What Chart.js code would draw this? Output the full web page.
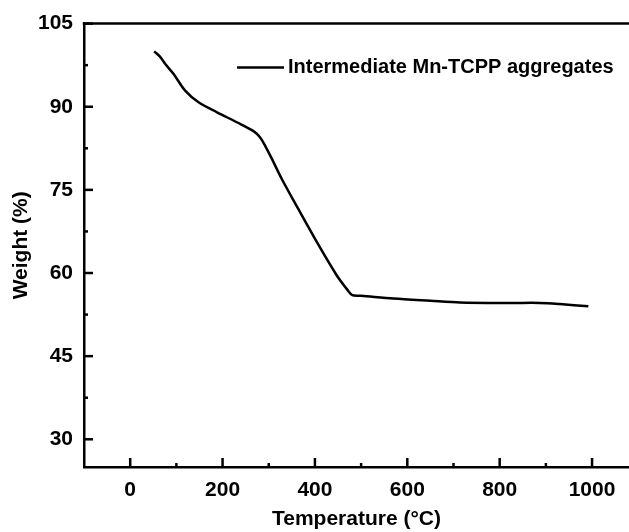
<!DOCTYPE html>
<html>
<head>
<meta charset="utf-8">
<script src="https://cdn.jsdelivr.net/npm/chart.js@4"></script>
<style>
  body { margin: 0; background: #fff; }
  #wrap { width: 629px; height: 532px; }
</style>
</head>
<body>
<div id="wrap"><canvas id="chart" width="629" height="532"></canvas></div>
<script>
// TGA curve
const temperature = [52, 65, 76, 94, 119, 148, 188, 231, 267, 281, 292, 305, 328, 353, 404, 447, 470, 481, 500, 570, 650, 714, 823, 887, 930, 992]
const weight = [100.0, 99.0, 97.7, 95.9, 92.9, 90.8, 89.0, 87.2, 85.6, 84.5, 83.0, 80.9, 77.0, 73.2, 65.6, 59.6, 57.0, 56.0, 55.9, 55.4, 55.0, 54.7, 54.6, 54.6, 54.4, 54.0]
const xTicks = [0, 200, 400, 600, 800, 1000]
const xMinorTicks = [100, 300, 500, 700, 900]
const yTicks = [30, 45, 60, 75, 90, 105]
const yMinorTicks = [37.5, 52.5, 67.5, 82.5, 97.5]
const seriesName = 'Intermediate Mn-TCPP aggregates'

const FONT = 'Liberation Sans, Arial, sans-serif'

// frame top line, inward ticks and the legend
const framePlugin = {
    id: 'frame',
    afterDraw(chart) {
        const ctx = chart.ctx
        const area = chart.chartArea
        const x = chart.scales.x
        const y = chart.scales.y
        ctx.save()
        ctx.strokeStyle = '#000'
        ctx.lineWidth = 2.5
        ctx.beginPath()
        ctx.moveTo(area.left - 1.25, area.top)
        ctx.lineTo(area.right, area.top)
        ctx.stroke()

        const tick = (vals, len, horiz) => {
            vals.forEach(v => {
                ctx.beginPath()
                if (horiz) {
                    const px = x.getPixelForValue(v)
                    ctx.moveTo(px, area.bottom)
                    ctx.lineTo(px, area.bottom - len)
                } else {
                    const py = y.getPixelForValue(v)
                    ctx.moveTo(area.left, py)
                    ctx.lineTo(area.left + len, py)
                }
                ctx.stroke()
            })
        }
        tick(xTicks, 9, true)
        tick(xMinorTicks, 4, true)
        tick(yTicks, 9, false)
        tick(yMinorTicks, 4, false)

        // legend
        ctx.beginPath()
        ctx.moveTo(237, 67.5)
        ctx.lineTo(284, 67.5)
        ctx.stroke()
        ctx.fillStyle = '#000'
        ctx.font = 'bold 20px ' + FONT
        ctx.textBaseline = 'middle'
        ctx.textAlign = 'left'
        ctx.fillText(chart.data.datasets[0].label, 288, 67.5)
        ctx.restore()
    }
}

const points = temperature.map((t, i) => ({x: t, y: weight[i]}))

new Chart(document.getElementById('chart').getContext('2d'), {
    type: 'line',
    data: {
        datasets: [{
            label: seriesName,
            data: points,
            borderColor: '#000',
            borderWidth: 2.5,
            pointRadius: 0,
            tension: 0.3,
            fill: false
        }]
    },
    options: {
        responsive: false,
        animation: false,
        layout: {padding: {top: 21, right: 0, left: 0, bottom: 0}},
        plugins: {legend: {display: false}, tooltip: {enabled: false}},
        scales: {
            x: {
                type: 'linear',
                min: -100,
                max: 1080,
                afterBuildTicks: s => { s.ticks = xTicks.map(v => ({value: v})) },
                afterFit: s => { s.height = 65 },
                grid: {display: true, drawOnChartArea: false, drawTicks: false},
                border: {display: true, color: '#000', width: 2.5},
                ticks: {
                    color: '#000',
                    padding: 11,
                    maxRotation: 0,
                    callback: v => String(v),
                    font: {family: FONT, size: 21, weight: 'bold'}
                },
                title: {
                    display: true,
                    text: 'Temperature (°C)',
                    color: '#000',
                    padding: {top: 0, bottom: 0},
                    font: {family: FONT, size: 21, weight: 'bold'}
                }
            },
            y: {
                min: 25,
                max: 105,
                afterBuildTicks: s => { s.ticks = yTicks.map(v => ({value: v})) },
                afterFit: s => { s.width = 84 },
                grid: {display: true, drawOnChartArea: false, drawTicks: false},
                border: {display: true, color: '#000', width: 2.5},
                ticks: {
                    color: '#000',
                    padding: 11,
                    callback: v => String(v),
                    font: {family: FONT, size: 21, weight: 'bold'}
                },
                title: {
                    display: true,
                    text: 'Weight (%)',
                    color: '#000',
                    padding: {top: 9, bottom: 0},
                    font: {family: FONT, size: 21, weight: 'bold'}
                }
            }
        }
    },
    plugins: [framePlugin]
})
</script>
</body>
</html>
